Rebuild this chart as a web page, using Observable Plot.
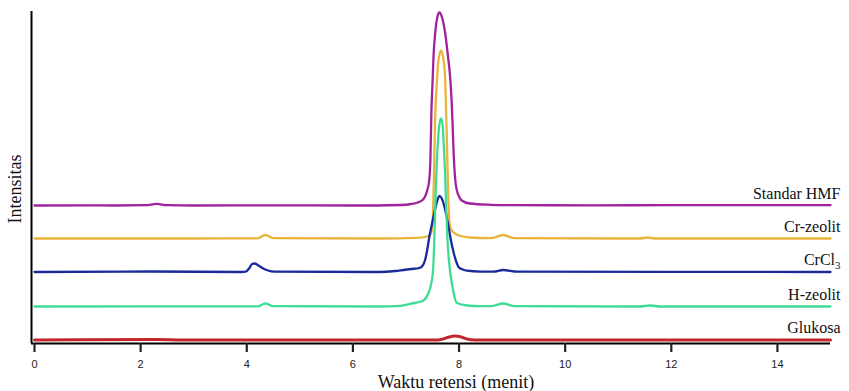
<!DOCTYPE html>
<html>
<head>
<meta charset="utf-8">
<script src="https://cdn.jsdelivr.net/npm/d3@7"></script>
<script src="https://cdn.jsdelivr.net/npm/@observablehq/plot@0.6"></script>
<style>
  html, body { margin: 0; padding: 0; background: #fff; }
  #chart svg { display: block; }
</style>
</head>
<body>
<div id="chart"></div>
<script>
// Series names (top to bottom) and their vertical display offsets (intensity units)
const seriesNames = ["Standar HMF", "Cr-zeolit", "CrCl3", "H-zeolit", "Glukosa"];
const seriesOffsets = [138, 105, 71.5, 37, 3.5];
const xTicks = [0, 2, 4, 6, 8, 10, 12, 14];

// Chromatogram traces: [retention time (min), intensity above own baseline]
const standarHMF = [
  [0,0],[1.0,0.2],[1.5,0],[2.1,0.3],[2.3,1.6],[2.5,0.3],[3.0,0],[4.5,0.2],[6.0,0],
  [6.9,0.5],[7.1,1.5],[7.22,3],[7.3,5],[7.36,9],[7.4,15],[7.44,26],[7.46,45],[7.48,95],
  [7.5,122],[7.52,150],[7.55,172],[7.59,188],[7.63,193],[7.68,188],[7.74,172],[7.79,150],
  [7.83,130],[7.86,105],[7.88,80],[7.9,50],[7.93,25],[7.96,15],[8.0,9],[8.05,5],[8.2,2],
  [8.6,0.7],[9,0.3],[10.5,0.2],[12,0.3],[15,0.3]
];
const crZeolit = [
  [0,0],[3,0],[4.2,0.2],[4.35,3.5],[4.5,0.3],[6.5,0],[7.2,0.6],[7.4,2],[7.46,4],[7.49,9],
  [7.51,25],[7.53,70],[7.55,120],[7.58,155],[7.61,177],[7.66,188],[7.7,181],[7.73,168],
  [7.75,140],[7.77,100],[7.79,55],[7.81,25],[7.84,10],[7.9,6],[8.0,3],[8.2,1],[8.6,0.3],
  [8.83,3.5],[9.05,0.3],[11.4,0],[11.55,1],[11.7,0],[15,0]
];
const crCl3 = [
  [0,0],[2.2,0.5],[3.9,0],[3.98,0.3],[4.05,4],[4.1,8],[4.15,8.5],[4.22,6.5],[4.3,3.8],
  [4.4,1.5],[4.52,0.3],[6.5,0],[6.8,1],[6.95,2],[7.1,3],[7.25,4],[7.31,6],[7.36,12],
  [7.4,22],[7.44,35],[7.49,48],[7.55,63],[7.6,73],[7.63,76],[7.67,74],[7.74,62],[7.8,46],
  [7.85,31],[7.9,19],[7.95,10],[7.99,5],[8.07,2.5],[8.15,1.3],[8.4,0.4],[8.65,0.3],
  [8.83,2],[9.1,0.3],[15,0]
];
const hZeolit = [
  [0,0],[4.2,0.2],[4.35,3],[4.5,0.3],[6.5,0],[6.9,0.7],[7.08,2.7],[7.25,4.5],[7.33,6],
  [7.42,13],[7.48,24],[7.51,36],[7.53,60],[7.55,96],[7.57,129],[7.6,163],[7.63,182],
  [7.66,188],[7.69,182],[7.71,163],[7.74,129],[7.76,96],[7.79,60],[7.83,36],[7.87,22],
  [7.9,13],[7.96,3.5],[8.15,1],[8.4,0.3],[8.6,0.3],[8.83,3],[9.05,0.3],[11.4,0],
  [11.6,1],[11.8,0],[15,0]
];
const glukosa = [
  [0,0],[2.3,0.4],[2.8,0],[7.6,0],[7.7,1],[7.8,2.8],[7.93,4],[8.05,2.8],[8.15,1],[8.3,0],[15,0]
];

// Styles (kept separate from the data)
const seriesColors = ["#a1229c", "#e9b43c", "#1b2a9a", "#3fdc96", "#c4262d"];
const traces = [standarHMF, crZeolit, crCl3, hZeolit, glukosa];

const rows = traces.flatMap((pts, i) =>
  pts.map(([t, h]) => ({series: seriesNames[i], t, y: seriesOffsets[i] + h}))
);

const serif = "'Liberation Serif', 'Times New Roman', serif";
const sans = "'Liberation Sans', Arial, sans-serif";

const chart = Plot.plot({
  width: 849,
  height: 391,
  marginLeft: 31,
  marginRight: 19,
  marginTop: 11,
  marginBottom: 48,
  style: {background: "#fff", overflow: "visible"},
  x: {domain: [0, 15], insetLeft: 3, axis: null},
  y: {domain: [0, 332], axis: null},
  color: {domain: seriesNames, range: seriesColors},
  marks: [
    Plot.line(rows.filter(d => d.series !== "Glukosa"), {
      x: "t", y: "y", z: "series", stroke: "series",
      strokeWidth: 2.3, curve: "monotone-x"
    }),
    Plot.line(rows.filter(d => d.series === "Glukosa"), {
      x: "t", y: "y", stroke: "series", strokeWidth: 3, curve: "monotone-x"
    }),
    Plot.ruleY([0], {stroke: "#000", strokeWidth: 2}),
    Plot.ruleX([0], {dx: -3, stroke: "#000", strokeWidth: 2}),
    Plot.axisX(xTicks, {
      tickSize: 9, strokeWidth: 2.2, tickPadding: 8, fontSize: 11,
      fontFamily: sans, color: "#222", label: null
    }),
    Plot.text(seriesNames, {
      y: seriesOffsets, frameAnchor: "right", textAnchor: "end", lineAnchor: "bottom",
      dx: 10, dy: -7, fontSize: 16, fontFamily: serif, fill: "#111"
    }),
    Plot.text(["Waktu retensi (menit)"], {
      frameAnchor: "bottom", dx: 25, dy: 39, lineAnchor: "middle",
      fontSize: 18, fontFamily: serif, fill: "#111"
    }),
    Plot.text(["Intensitas"], {
      frameAnchor: "left", rotate: -90, dx: -16, dy: 46, lineAnchor: "middle",
      fontSize: 18, fontFamily: serif, fill: "#111"
    })
  ]
});

// Render CrCl3 with a subscript 3
d3.select(chart).selectAll("text").each(function () {
  if (this.textContent === "CrCl3") {
    const t = d3.select(this);
    t.text("CrCl");
    t.append("tspan").attr("font-size", 11).attr("dy", "0.35em").text("3");
  }
});

document.getElementById("chart").appendChild(chart);
</script>
</body>
</html>
